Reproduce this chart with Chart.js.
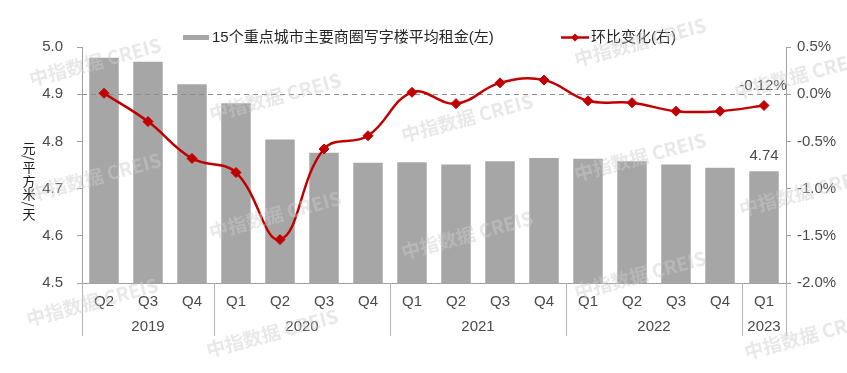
<!DOCTYPE html>
<html><head><meta charset="utf-8">
<script src="https://cdn.jsdelivr.net/npm/chart.js@4/dist/chart.umd.min.js"></script>
<style>html,body{margin:0;padding:0;background:#fff}#wrap{width:847px;height:373px;position:relative}</style>
</head><body><div id="wrap"><canvas id="c" width="847" height="373"></canvas></div>
<script>
// ---- data ----
const quarters = ['Q2','Q3','Q4','Q1','Q2','Q3','Q4','Q1','Q2','Q3','Q4','Q1','Q2','Q3','Q4','Q1'];
const years    = ['2019','2019','2019','2020','2020','2020','2020','2021','2021','2021','2021','2022','2022','2022','2022','2023'];
const rent     = [4.977,4.969,4.921,4.881,4.804,4.776,4.755,4.756,4.751,4.758,4.765,4.763,4.758,4.751,4.744,4.737];
const change   = [0.01,-0.29,-0.68,-0.83,-1.54,-0.58,-0.44,0.02,-0.10,0.12,0.15,-0.07,-0.09,-0.18,-0.18,-0.12];
const leftTicks  = {min:4.5, max:5.0, step:0.1};
const rightTicks = {min:-2.0, max:0.5, step:0.5};
const barName  = '15个重点城市主要商圈写字楼平均租金(左)';
const lineName = '环比变化(右)';
const yTitle   = '元/平方米/天';
const watermark = '中指数据 CREIS';
const watermarkSpots = [[95,62],[95,177],[92,302],[275,97],[275,215],[272,333],[467,118],[467,235],[640,42],[640,157],[640,275],[800,75],[805,192],[810,335]];

const FONT = '"Liberation Sans", Arial, "Noto Sans CJK SC", sans-serif';
const CJK  = '"Liberation Sans", "Noto Sans CJK SC", sans-serif';
const TXT = '#4a4a4a';
const BAR = '#a6a6a6';
const RED = '#c00000';
const AX  = '#a0a0a0';

const custom = {
  id:'custom',
  beforeDatasetDraw(chart, args){
    if (args.index !== 1) return;
    const ctx = chart.ctx, a = chart.chartArea, y = chart.scales.y1.getPixelForValue(0);
    ctx.save();
    ctx.strokeStyle = '#8c8c8c'; ctx.lineWidth = 1; ctx.setLineDash([5,4]);
    ctx.beginPath(); ctx.moveTo(a.left, Math.round(y)+0.5); ctx.lineTo(a.right, Math.round(y)+0.5); ctx.stroke();
    ctx.restore();
  },
  afterDraw(chart){
    const ctx = chart.ctx, a = chart.chartArea, xs = chart.scales.x;
    ctx.save();
    // year row and separators
    const sepBottom = 336;
    ctx.strokeStyle = '#b4b4b4'; ctx.lineWidth = 1;
    const seps = [a.left, a.right];
    let start = 0;
    ctx.font = '15px ' + FONT; ctx.fillStyle = TXT; ctx.textAlign = 'center'; ctx.textBaseline = 'middle';
    for (let i = 1; i <= years.length; i++) {
      if (i === years.length || years[i] !== years[start]) {
        const cx = (xs.getPixelForValue(start) + xs.getPixelForValue(i-1)) / 2;
        ctx.fillText(years[start], cx, 327);
        if (i < years.length) seps.push((xs.getPixelForValue(i-1) + xs.getPixelForValue(i)) / 2);
        start = i;
      }
    }
    seps.forEach(x => { ctx.beginPath(); ctx.moveTo(Math.round(x)+0.5, a.bottom); ctx.lineTo(Math.round(x)+0.5, sepBottom); ctx.stroke(); });

    // data labels for last point
    const n = rent.length - 1;
    const lm = chart.getDatasetMeta(1).data[n], bm = chart.getDatasetMeta(0).data[n];
    ctx.fillStyle = TXT; ctx.font = '15px ' + FONT;
    ctx.fillText(change[n].toFixed(2) + '%', lm.x - 1, lm.y - 20);
    ctx.fillText(rent[n].toFixed(2), bm.x, bm.y - 15);

    // legend
    ctx.fillStyle = BAR; ctx.fillRect(183, 35, 26, 5);
    ctx.fillStyle = '#262626'; ctx.font = '15px ' + CJK; ctx.textAlign = 'left';
    ctx.fillText(barName, 212, 38);
    ctx.strokeStyle = RED; ctx.lineWidth = 2.5;
    ctx.beginPath(); ctx.moveTo(561, 37.5); ctx.lineTo(589, 37.5); ctx.stroke();
    ctx.fillStyle = RED; ctx.beginPath();
    ctx.moveTo(575, 33.5); ctx.lineTo(579, 37.5); ctx.lineTo(575, 41.5); ctx.lineTo(571, 37.5); ctx.closePath(); ctx.fill();
    ctx.fillStyle = '#262626'; ctx.font = '15px ' + CJK;
    ctx.fillText(lineName, 591, 38);

    // vertical y title, stacked characters
    ctx.fillStyle = '#1a1a1a'; ctx.font = '13px "Noto Sans CJK SC", sans-serif'; ctx.textAlign = 'center';
    let y = 141;
    for (const ch of yTitle) {
      if (ch === '/') {
        ctx.save(); ctx.translate(29, y + 3); ctx.rotate(Math.PI/2); ctx.fillText('/', 0, 0); ctx.restore();
        y += 6;
      } else {
        ctx.fillText(ch, 29, y + 6.75); y += 13.5;
      }
    }

    // faint watermarks
    ctx.font = 'bold 19px "Noto Sans CJK SC", sans-serif';
    ctx.fillStyle = 'rgba(205,205,205,0.45)';
    ctx.textAlign = 'center';
    watermarkSpots.forEach(([wx, wy]) => {
      ctx.save(); ctx.translate(wx, wy); ctx.rotate(-15 * Math.PI / 180);
      ctx.fillText(watermark, 0, 0); ctx.restore();
    });
    ctx.restore();
  }
};

new Chart(document.getElementById('c'), {
  type: 'bar',
  data: {
    labels: quarters,
    datasets: [
      { type:'bar', label: barName, data: rent, backgroundColor: BAR, yAxisID:'y',
        categoryPercentage: 1, barPercentage: 0.67, order: 2 },
      { type:'line', label: lineName, data: change, yAxisID:'y1', borderColor: RED, backgroundColor: RED,
        borderWidth: 2.5, tension: 0.4, pointStyle:'rectRot', pointRadius: 5, pointBackgroundColor: RED,
        pointBorderColor: RED, pointBorderWidth: 1, order: 1 }
    ]
  },
  options: {
    responsive: false, animation: false,
    layout: { padding: { top: 47, left: 0, right: 0, bottom: 0 } },
    plugins: { legend: { display:false }, tooltip: { enabled:false } },
    scales: {
      x: {
        grid: { display:true, drawOnChartArea:false, drawTicks:false },
        border: { display:true, color: AX },
        ticks: { color: TXT, font: { family: FONT, size: 15 }, padding: 10, autoSkip:false, maxRotation:0 },
        afterFit(s){ s.height = 90; }
      },
      y: {
        position:'left', min: leftTicks.min, max: leftTicks.max,
        grid: { drawOnChartArea:false, tickLength:5, color: AX },
        border: { color: AX },
        ticks: { stepSize: leftTicks.step, color: TXT, font:{ family: FONT, size: 15 }, padding: 14,
                 callback: v => v.toFixed(1) },
        afterFit(s){ s.width = 82; }
      },
      y1: {
        position:'right', min: rightTicks.min, max: rightTicks.max,
        grid: { drawOnChartArea:false, tickLength:5, color: AX },
        border: { color: AX },
        ticks: { stepSize: rightTicks.step, color: TXT, font:{ family: FONT, size: 15 }, padding: 6,
                 callback: v => v.toFixed(1) + '%' },
        afterFit(s){ s.width = 61; }
      }
    }
  },
  plugins: [custom]
});
</script></body></html>
